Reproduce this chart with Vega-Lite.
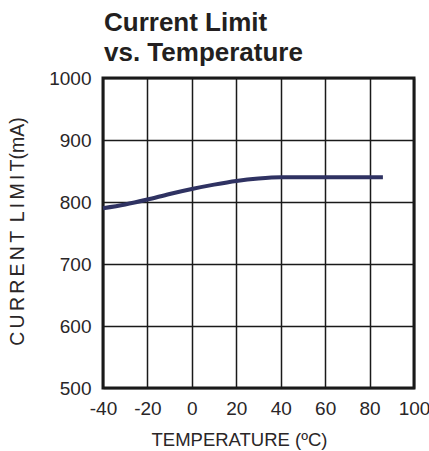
{
  "$schema": "https://vega.github.io/schema/vega-lite/v6.json",
  "autosize": "none",
  "width": 311,
  "height": 310,
  "padding": {"left": 103, "top": 78, "right": 15, "bottom": 63},
  "background": "white",
  "title": {
    "text": ["Current Limit", "vs. Temperature"],
    "anchor": "start",
    "frame": "group",
    "font": "Liberation Sans",
    "fontSize": 26,
    "fontWeight": "bold",
    "lineHeight": 30,
    "color": "#231f20",
    "offset": 3,
    "dx": 1
  },
  "config": {
    "view": {"stroke": "#1a1a1a", "strokeWidth": 3},
    "axis": {
      "labelFont": "Liberation Sans",
      "titleFont": "Liberation Sans",
      "labelColor": "#2a2627",
      "titleColor": "#2a2627",
      "titleFontWeight": "normal",
      "labelFontWeight": "normal",
      "domain": false,
      "ticks": false,
      "tickSize": 0,
      "grid": true,
      "gridColor": "#1a1a1a",
      "gridWidth": 1.5,
      "gridOpacity": 1
    }
  },
  "data": {
    "values": [
      {"t": -40, "i": 790},
      {"t": -30, "i": 796},
      {"t": -20, "i": 804},
      {"t": -10, "i": 813},
      {"t": 0, "i": 821},
      {"t": 10, "i": 828},
      {"t": 20, "i": 834},
      {"t": 30, "i": 838},
      {"t": 40, "i": 840},
      {"t": 50, "i": 840},
      {"t": 60, "i": 840},
      {"t": 70, "i": 840},
      {"t": 80, "i": 840},
      {"t": 86, "i": 840}
    ]
  },
  "mark": {"type": "line", "color": "#2f3262", "strokeWidth": 4, "interpolate": "monotone", "strokeCap": "butt"},
  "encoding": {
    "x": {
      "field": "t",
      "type": "quantitative",
      "scale": {"domain": [-40, 100], "nice": false, "zero": false},
      "axis": {
        "values": [-40, -20, 0, 20, 40, 60, 80, 100],
        "labelExpr": "'' + datum.value",
        "labelFontSize": 19,
        "labelBaseline": "top",
        "labelPadding": 11,
        "labelDx": -7,
        "labelFlush": false,
        "labelOverlap": false,
        "title": "TEMPERATURE (ºC)",
        "titleFontSize": 18.5,
        "titleX": 136,
        "titleY": 57,
        "titleBaseline": "alphabetic",
        "titleAnchor": "middle",
        "titleAlign": "center"
      }
    },
    "y": {
      "field": "i",
      "type": "quantitative",
      "scale": {"domain": [500, 1000], "nice": false, "zero": false},
      "axis": {
        "values": [500, 600, 700, 800, 900, 1000],
        "labelExpr": "'' + datum.value",
        "labelFontSize": 19,
        "labelPadding": 12,
        "labelBaseline": "middle",
        "labelFlush": false,
        "labelOverlap": false,
        "title": "C\u2006U\u2006R\u2006R\u2006E\u2006N\u2006T\u2006 L\u2006I\u2006M\u2006I\u2006T(mA)",
        "titleFontSize": 19.5,
        "titleX": -86,
        "titleY": 153,
        "titleBaseline": "middle",
        "titleAngle": -90,
        "titleAlign": "center"
      }
    }
  }
}
